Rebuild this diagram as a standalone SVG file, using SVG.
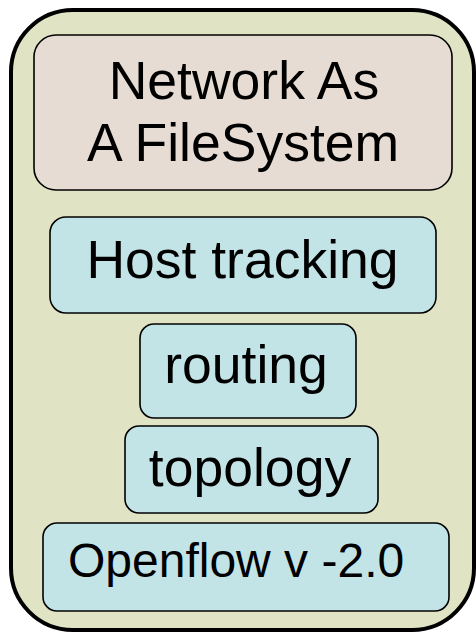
<svg xmlns="http://www.w3.org/2000/svg" width="476" height="634" viewBox="0 0 476 634">
<style>
.box{stroke:#000;stroke-width:1.6}
.blue{fill:#c3e4e7}
.t{font-family:"Liberation Sans",Arial,sans-serif;font-size:53.5px;fill:#000}
</style>
<rect width="476" height="634" fill="#ffffff"/>
<g id="container">
<rect x="11" y="10" width="463" height="620" rx="62" ry="62" fill="#e1e4c4" stroke="#000" stroke-width="4"/>
</g>
<g id="nafs">
<rect class="box" x="34" y="35" width="418" height="155" rx="22" fill="#e6dcd3"/>
<text class="t" x="244" y="99" text-anchor="middle">Network As</text>
<text class="t" x="243" y="161" text-anchor="middle">A FileSystem</text>
</g>
<g id="host">
<rect class="box blue" x="50" y="217" width="386" height="96" rx="16"/>
<text class="t" x="242.5" y="278" text-anchor="middle">Host tracking</text>
</g>
<g id="routing">
<rect class="box blue" x="140" y="324" width="216" height="94" rx="14"/>
<text class="t" x="246" y="383" text-anchor="middle">routing</text>
</g>
<g id="topology">
<rect class="box blue" x="125" y="426" width="253" height="87" rx="14"/>
<text class="t" x="250" y="486" text-anchor="middle">topology</text>
</g>
<g id="openflow">
<rect class="box blue" x="43" y="523" width="406" height="88" rx="14"/>
<text class="t" x="68" y="577" style="font-size:48px">Openflow v -2.0</text>
</g>
<g id="connectors"></g>
</svg>
